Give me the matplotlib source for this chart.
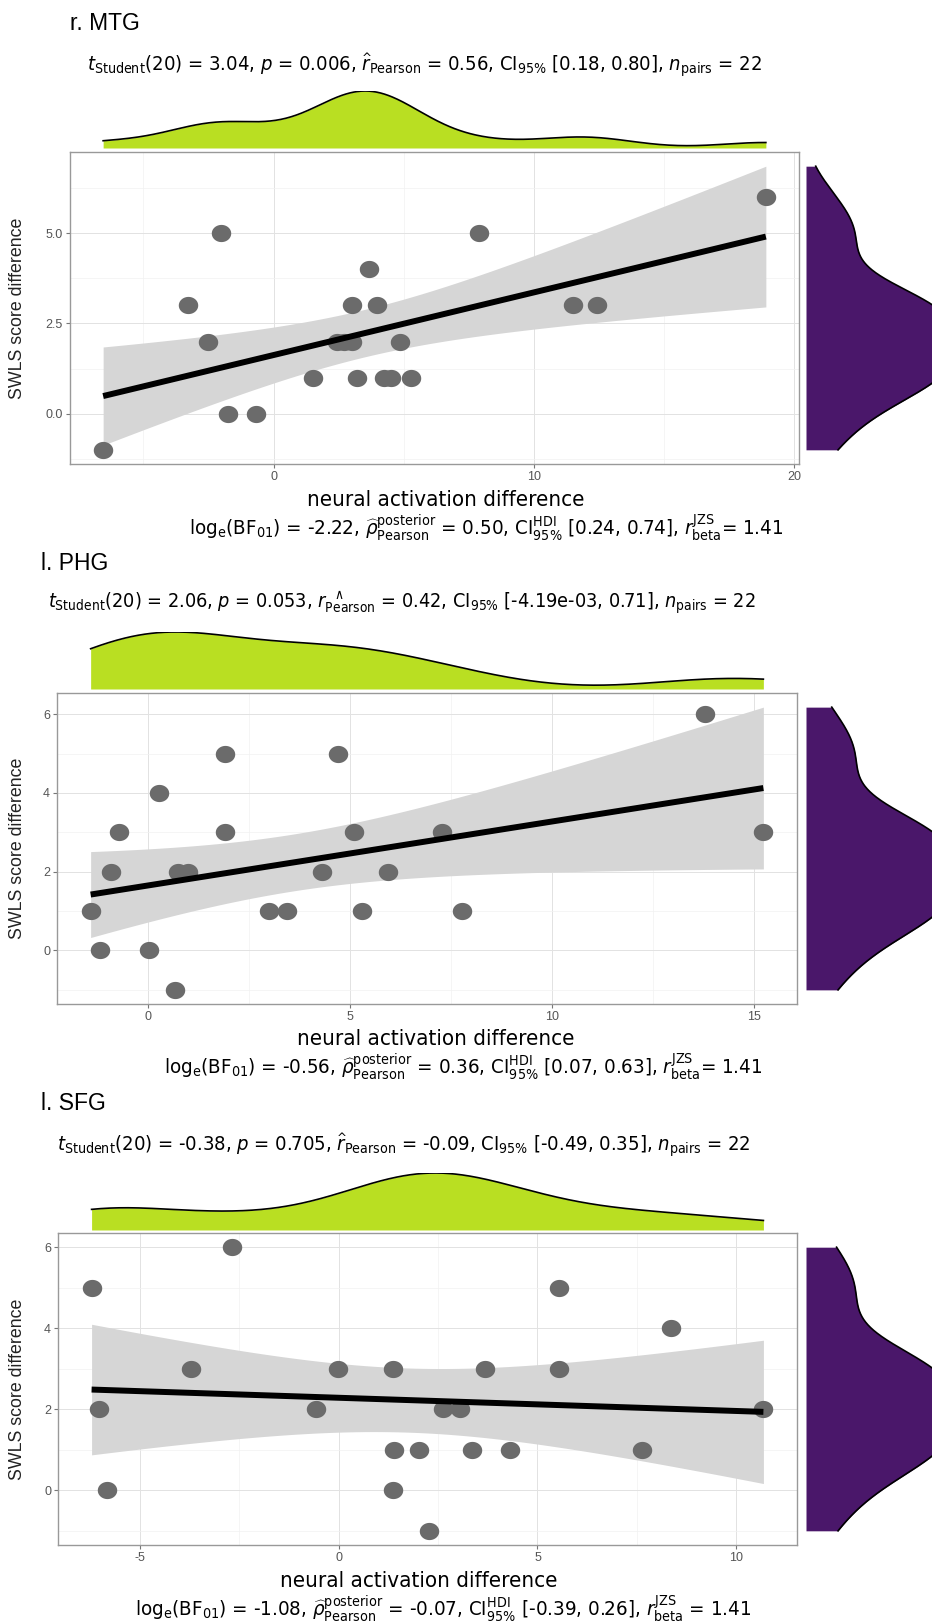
import numpy as np
import matplotlib
matplotlib.use("Agg")
import matplotlib.pyplot as plt
from matplotlib.path import Path
from matplotlib.ticker import MultipleLocator, AutoMinorLocator, FormatStrFormatter

plt.rcParams['font.family'] = ['DejaVu Sans']
plt.rcParams['font.stretch'] = 'condensed'
plt.rcParams['mathtext.fontset'] = 'custom'
plt.rcParams['mathtext.rm'] = 'DejaVu Sans:stretch=condensed'
plt.rcParams['mathtext.it'] = 'DejaVu Sans:style=italic:stretch=condensed'
plt.rcParams['mathtext.bf'] = 'DejaVu Sans:weight=bold:stretch=condensed'
plt.rcParams['axes.unicode_minus'] = False

############ DATA ############
mtg_x = [-6.55, -2.01, -3.29, -2.51, -1.75, -0.69, 1.53, 2.42, 2.72, 3.02, 3.00,
         3.20, 3.65, 3.98, 4.24, 4.52, 4.84, 5.27, 7.89, 11.50, 12.43, 18.92]
mtg_y = [-1, 5, 3, 2, 0, 0, 1, 2, 2, 2, 3,
         1, 4, 3, 1, 1, 2, 1, 5, 3, 3, 6]

phg_x = [13.78, 1.89, 4.68, 0.25, -0.74, 1.89, 5.09, 7.27, 15.22, -0.93, 0.74,
         0.97, 4.30, 5.93, -1.43, 2.99, 3.43, 5.28, 7.75, -1.19, 0.01, 0.66]
phg_y = [6, 5, 5, 4, 3, 3, 3, 3, 3, 2, 2,
         2, 2, 2, 1, 1, 1, 1, 1, 0, 0, -1]

sfg_x = [-2.67, -6.21, 5.53, 8.35, -3.71, -0.02, 1.37, 3.69, 5.53, -6.03, -0.56,
         2.62, 3.04, 10.68, 1.39, 2.02, 3.35, 4.31, 7.62, -5.83, 1.37, 2.27]
sfg_y = [6, 5, 5, 4, 3, 3, 3, 3, 3, 2, 2,
         2, 2, 2, 1, 1, 1, 1, 1, 0, 0, -1]

titles = ["r. MTG", "l. PHG", "l. SFG"]

top_stats = [
    r"$t_{\mathrm{Student}}$(20) = 3.04, $p$ = 0.006, $\widehat{r}_{\mathrm{Pearson}}$ = 0.56, CI$_{\mathrm{95\%}}$ [0.18, 0.80], $n_{\mathrm{pairs}}$ = 22",
    r"$t_{\mathrm{Student}}$(20) = 2.06, $p$ = 0.053, $r^{\;\;\wedge}_{\mathrm{Pearson}}$ = 0.42, CI$_{\mathrm{95\%}}$ [-4.19e-03, 0.71], $n_{\mathrm{pairs}}$ = 22",
    r"$t_{\mathrm{Student}}$(20) = -0.38, $p$ = 0.705, $\widehat{r}_{\mathrm{Pearson}}$ = -0.09, CI$_{\mathrm{95\%}}$ [-0.49, 0.35], $n_{\mathrm{pairs}}$ = 22",
]
bottom_stats = [
    r"log$_{\mathrm{e}}$(BF$_{\mathrm{01}}$) = -2.22, $\widehat{\rho}^{\mathrm{posterior}}_{\mathrm{Pearson}}$ = 0.50, CI$^{\mathrm{HDI}}_{\mathrm{95\%}}$ [0.24, 0.74], $r^{\mathrm{JZS}}_{\mathrm{beta}}$= 1.41",
    r"log$_{\mathrm{e}}$(BF$_{\mathrm{01}}$) = -0.56, $\widehat{\rho}^{\mathrm{posterior}}_{\mathrm{Pearson}}$ = 0.36, CI$^{\mathrm{HDI}}_{\mathrm{95\%}}$ [0.07, 0.63], $r^{\mathrm{JZS}}_{\mathrm{beta}}$= 1.41",
    r"log$_{\mathrm{e}}$(BF$_{\mathrm{01}}$) = -1.08, $\widehat{\rho}^{\mathrm{posterior}}_{\mathrm{Pearson}}$ = -0.07, CI$^{\mathrm{HDI}}_{\mathrm{95\%}}$ [-0.39, 0.26], $r^{\mathrm{JZS}}_{\mathrm{beta}}$ = 1.41",
]

############ LAYOUT (pixels) ############
W, H = 932, 1623
layout = [
    dict(l=70, r=799, t=152, b=464, gb=148, gp=91, title_y=23, title_x=70, stat_y=65, stat_x=425,
         xlab_y=500, xlab_x=446, bstat_y=528, bstat_x=486, stat_size=14.5, xmaj=10, ymaj=2.5, yfmt='%.1f'),
    dict(l=57, r=797, t=693, b=1004, gb=689, gp=632, title_y=563, title_x=41, stat_y=603, stat_x=402,
         xlab_y=1039, xlab_x=436, bstat_y=1067, bstat_x=463, stat_size=14.2, xmaj=5, ymaj=2, yfmt='%d'),
    dict(l=58, r=797, t=1233, b=1545, gb=1230, gp=1173, title_y=1103, title_x=41, stat_y=1145, stat_x=404,
         xlab_y=1581, xlab_x=419, bstat_y=1609, bstat_x=443, stat_size=14.5, xmaj=5, ymaj=2, yfmt='%d'),
]

GREEN = '#b9df22'
PURPLE = '#4a176a'
POINT = '#6b6b6b'
BAND = '#d6d6d6'

BSTAT_SIZE = 14.7
XLAB_SIZE = 16

theta = np.linspace(0, 2 * np.pi, 60)
ellipse = Path(np.column_stack([1.13 * np.cos(theta), np.sin(theta)]), closed=True)


def bw_nrd0(v):
    v = np.asarray(v, float)
    hi = np.std(v, ddof=1)
    iqr = np.subtract(*np.percentile(v, [75, 25]))
    lo = min(hi, iqr / 1.34) if iqr > 0 else hi
    return 0.9 * lo * len(v) ** -0.2


def kde(v, grid):
    v = np.asarray(v, float)
    bw = bw_nrd0(v)
    z = (grid[:, None] - v[None, :]) / bw
    return np.exp(-0.5 * z ** 2).sum(axis=1) / (len(v) * bw * np.sqrt(2 * np.pi))


def rect(l, r, t, b):
    return [l / W, 1 - b / H, (r - l) / W, (b - t) / H]


fig = plt.figure(figsize=(W / 100, H / 100), dpi=100)

datasets = [(mtg_x, mtg_y), (phg_x, phg_y), (sfg_x, sfg_y)]

for i, (xd, yd) in enumerate(datasets):
    L = layout[i]
    x = np.array(xd, float)
    y = np.array(yd, float)

    ################# MAIN SCATTER #################
    ax = fig.add_axes(rect(L['l'], L['r'], L['t'], L['b']))
    n = len(x)
    b1, b0 = np.polyfit(x, y, 1)
    resid = y - (b0 + b1 * x)
    s = np.sqrt((resid ** 2).sum() / (n - 2))
    sxx = ((x - x.mean()) ** 2).sum()
    xs = np.linspace(x.min(), x.max(), 80)
    fit = b0 + b1 * xs
    se = s * np.sqrt(1 / n + (xs - x.mean()) ** 2 / sxx)
    lo, hi = fit - 2.086 * se, fit + 2.086 * se

    ax.fill_between(xs, lo, hi, color=BAND, lw=0, zorder=2)
    ax.plot(x, y, ls='none', marker=ellipse, ms=14, color=POINT, mec='none', zorder=3)
    ax.plot(xs, fit, color='black', lw=4.3, zorder=4, solid_capstyle='butt')

    ax.margins(0.05)
    ax.xaxis.set_major_locator(MultipleLocator(L['xmaj']))
    ax.xaxis.set_minor_locator(AutoMinorLocator(2))
    ax.yaxis.set_major_locator(MultipleLocator(L['ymaj']))
    ax.yaxis.set_minor_locator(AutoMinorLocator(2))
    ax.yaxis.set_major_formatter(FormatStrFormatter(L['yfmt']))
    ax.grid(True, which='major', color='#e2e2e2', lw=0.7, zorder=0)
    ax.grid(True, which='minor', color='#f1f1f1', lw=0.5, zorder=0)
    ax.set_axisbelow(True)
    for sp in ax.spines.values():
        sp.set_color('#999999')
        sp.set_linewidth(1.0)
    ax.tick_params(which='major', length=3, width=0.8, color='#777777', pad=2,
                   labelsize=9, labelcolor='#555555')
    ax.tick_params(which='minor', length=0)
    for lab in ax.get_xticklabels() + ax.get_yticklabels():
        lab.set_family(['Liberation Sans', 'DejaVu Sans'])
        lab.set_stretch('normal')

    ################# TOP DENSITY (x) #################
    axt = fig.add_axes(rect(L['l'], L['r'], L['gp'], L['gb']), sharex=ax)
    gx = np.linspace(x.min(), x.max(), 512)
    dx = kde(x, gx)
    axt.fill_between(gx, 0, dx, color=GREEN, lw=0)
    axt.plot(gx, dx, color='black', lw=1.2)
    axt.set_ylim(0, dx.max())
    axt.axis('off')

    ################# RIGHT DENSITY (y) #################
    axr = fig.add_axes(rect(806, 958, L['t'], L['b']), sharey=ax)
    ymin = min(y.min(), lo.min())
    ymax = max(y.max(), hi.max())
    gy = np.linspace(ymin, ymax, 512)
    dy = kde(y, gy)
    axr.fill_betweenx(gy, 0, dy, color=PURPLE, lw=0)
    axr.plot(dy, gy, color='black', lw=1.2)
    axr.set_xlim(0, dy.max())
    axr.axis('off')

    ################# TEXTS #################
    fig.text(L['title_x'] / W, 1 - L['title_y'] / H, titles[i], fontsize=16.5,
             family=['Liberation Sans', 'DejaVu Sans'], stretch='normal', va='center', ha='left')
    fig.text(L['stat_x'] / W, 1 - L['stat_y'] / H, top_stats[i], fontsize=L['stat_size'],
             va='center', ha='center')
    fig.text(L['xlab_x'] / W, 1 - L['xlab_y'] / H, "neural activation difference",
             fontsize=XLAB_SIZE, va='center', ha='center')
    fig.text(L['bstat_x'] / W, 1 - L['bstat_y'] / H, bottom_stats[i], fontsize=BSTAT_SIZE,
             va='center', ha='center')
    fig.text(18 / W, 1 - (L['t'] + L['b']) / 2 / H, "SWLS score difference", fontsize=12.8,
             family=['Liberation Sans', 'DejaVu Sans'], stretch='normal', color='#222222',
             rotation=90, va='center', ha='center')

fig.savefig('out.png', dpi=100)
